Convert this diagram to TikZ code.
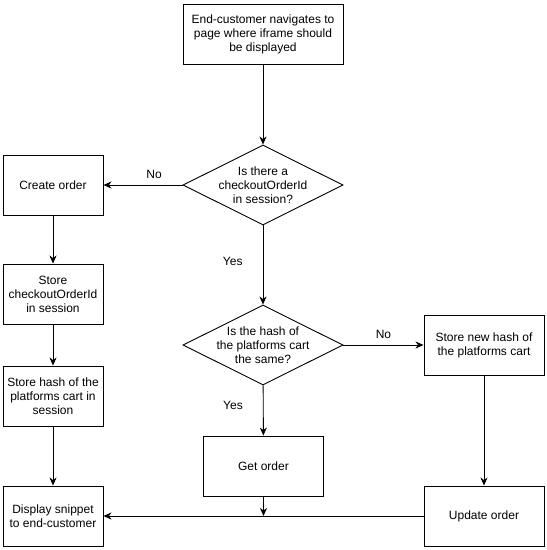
\documentclass[tikz,border=0pt]{standalone}
\usepackage{fontspec}
\setmainfont{Liberation Sans}
\usetikzlibrary{shapes.geometric,arrows.meta}
\begin{document}
\begin{tikzpicture}[x=1pt,y=-1pt,
  every node/.style={font=\fontsize{12}{14}\selectfont},
  box/.style={draw,line width=0.9pt,minimum height=60pt,inner sep=0pt,align=center},
  dia/.style={draw,diamond,line width=0.9pt,minimum width=160pt,minimum height=80pt,inner sep=0pt},
  lbl/.style={align=center,inner sep=0pt},
  conn/.style={line width=0.9pt,-{Stealth[length=8pt,width=7pt,inset=2.5pt]}}]
\useasboundingbox (0,0) rectangle (547,550);
\node[box,minimum width=160pt] (top) at (263,34) {End-customer navigates to\\page where iframe should\\be displayed};
\node[dia] (d1) at (263,185) {};
\node[lbl] at (263,185) {Is there a\\checkoutOrderId\\in session?};
\node[dia] (d2) at (263,345) {};
\node[lbl] at (263,345) {Is the hash of\\the platforms cart\\the same?};
\node[box,minimum width=100pt] (create) at (53,185) {Create order};
\node[box,minimum width=100pt] (sco) at (53,294) {Store\\checkoutOrderId\\in session};
\node[box,minimum width=100pt] (sh) at (53,396) {Store hash of the\\platforms cart in\\session};
\node[box,minimum width=100pt] (disp) at (53,516) {Display snippet\\to end-customer};
\node[box,minimum width=120pt] (get) at (263.5,466) {Get order};
\node[box,minimum width=120pt] (snh) at (484,345) {Store new hash of\\the platforms cart};
\node[box,minimum width=120pt] (upd) at (484,516) {Update order};
\coordinate (j) at (263.5,516);
\draw[conn] (top) -- (d1);
\draw[conn] (d1) -- node[lbl,pos=0.36,above=6pt] {No} (create);
\draw[conn] (d1) -- node[lbl,pos=0.46,left=20pt] {Yes} (d2);
\draw[conn] (d2) -- node[lbl,pos=0.5,above=6pt] {No} (snh);
\draw[conn] (d2) -- node[lbl,pos=0.4,left=20pt] {Yes} (get);
\draw[conn] (create) -- (sco);
\draw[conn] (sco) -- (sh);
\draw[conn] (sh) -- (disp);
\draw[conn] (snh) -- (upd);
\draw[conn] (upd) -- (disp);
\draw[conn] (get) -- (j);
\end{tikzpicture}
\end{document}
